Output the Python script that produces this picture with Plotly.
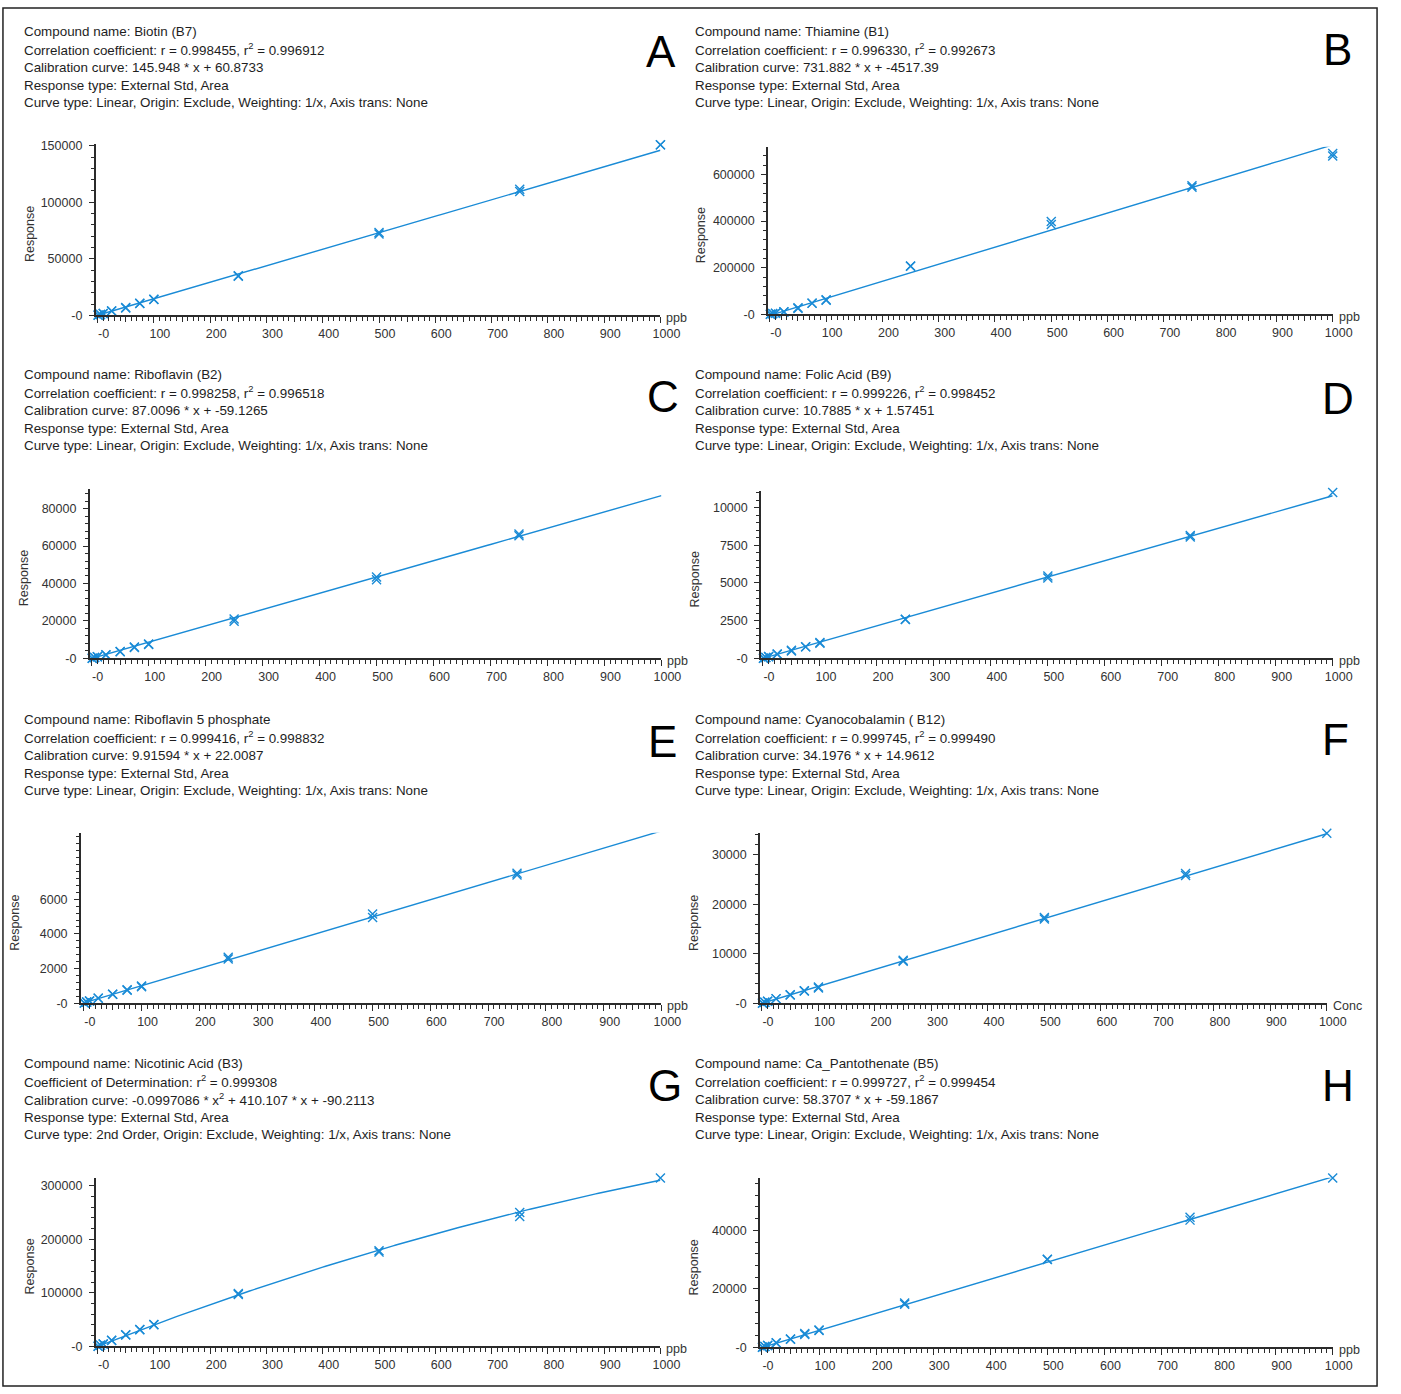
import numpy as np
import plotly.graph_objects as go

W, H = 1401, 1394

# ---------------- data ----------------
conc = [1, 5, 10, 25, 50, 75, 100, 250, 500, 750, 1000]

resp_A1 = [150, 700, 1500, 3800, 7000, 10500, 14000, 34500, 72000, 109500, 151000]
resp_A2 = [200, 800, 1600, 3900, 6400, 10700, 14300, 35000, 73200, 111500, 150800]
resp_B1 = [300, 2500, 4000, 10000, 25000, 47000, 62000, 207000, 385000, 545000, 680000]
resp_B2 = [500, 3000, 4500, 11000, 28000, 48000, 60000, 206000, 398000, 552000, 690000]
resp_C1 = [50, 400, 800, 1800, 3600, 5800, 7400, 19800, 42000, 65500, 91000]
resp_C2 = [80, 450, 850, 1900, 3500, 6000, 7600, 21000, 43500, 66500, 90800]
resp_D1 = [10, 50, 110, 270, 530, 760, 1000, 2600, 5330, 8050, 11000]
resp_D2 = [12, 55, 115, 280, 480, 770, 1050, 2580, 5460, 8150, 11300]
resp_E1 = [15, 70, 130, 290, 520, 760, 950, 2550, 4950, 7400, 9850]
resp_E2 = [18, 75, 135, 300, 530, 780, 1000, 2650, 5150, 7500, 9830]
resp_F1 = [40, 200, 400, 900, 1700, 2500, 3100, 8500, 17000, 25800, 34300]
resp_F2 = [45, 210, 420, 950, 1720, 2550, 3300, 8700, 17300, 26200, 34500]
resp_G1 = [300, 2000, 4500, 11000, 21000, 31000, 41000, 97000, 176000, 242600, 315000]
resp_G2 = [350, 2100, 4400, 11500, 21500, 31500, 40500, 98500, 178500, 250000, 314500]
resp_H1 = [40, 300, 600, 1500, 2800, 4400, 5800, 14700, 30000, 43500, 58000]
resp_H2 = [50, 320, 620, 1550, 2850, 4700, 5900, 15200, 30100, 44500, 57900]

# calibration coefficients (a*x^2 + b*x + c)
coef_A = [0, 145.948, 60.8733]
coef_B = [0, 731.882, -4517.39]
coef_C = [0, 87.0096, -59.1265]
coef_D = [0, 10.7885, 1.57451]
coef_E = [0, 9.91594, 22.0087]
coef_F = [0, 34.1976, 14.9612]
coef_G = [-0.0997086, 410.107, -90.2113]
coef_H = [0, 58.3707, -59.1867]

headers = {
    "A": ["Compound name: Biotin (B7)",
          "Correlation coefficient: r = 0.998455, r<sup>2</sup> = 0.996912",
          "Calibration curve: 145.948 * x + 60.8733",
          "Response type: External Std, Area",
          "Curve type: Linear, Origin: Exclude, Weighting: 1/x, Axis trans: None"],
    "B": ["Compound name: Thiamine (B1)",
          "Correlation coefficient: r = 0.996330, r<sup>2</sup> = 0.992673",
          "Calibration curve: 731.882 * x + -4517.39",
          "Response type: External Std, Area",
          "Curve type: Linear, Origin: Exclude, Weighting: 1/x, Axis trans: None"],
    "C": ["Compound name: Riboflavin (B2)",
          "Correlation coefficient: r = 0.998258, r<sup>2</sup> = 0.996518",
          "Calibration curve: 87.0096 * x + -59.1265",
          "Response type: External Std, Area",
          "Curve type: Linear, Origin: Exclude, Weighting: 1/x, Axis trans: None"],
    "D": ["Compound name: Folic Acid (B9)",
          "Correlation coefficient: r = 0.999226, r<sup>2</sup> = 0.998452",
          "Calibration curve: 10.7885 * x + 1.57451",
          "Response type: External Std, Area",
          "Curve type: Linear, Origin: Exclude, Weighting: 1/x, Axis trans: None"],
    "E": ["Compound name: Riboflavin 5 phosphate",
          "Correlation coefficient: r = 0.999416, r<sup>2</sup> = 0.998832",
          "Calibration curve: 9.91594 * x + 22.0087",
          "Response type: External Std, Area",
          "Curve type: Linear, Origin: Exclude, Weighting: 1/x, Axis trans: None"],
    "F": ["Compound name: Cyanocobalamin ( B12)",
          "Correlation coefficient: r = 0.999745, r<sup>2</sup> = 0.999490",
          "Calibration curve: 34.1976 * x + 14.9612",
          "Response type: External Std, Area",
          "Curve type: Linear, Origin: Exclude, Weighting: 1/x, Axis trans: None"],
    "G": ["Compound name: Nicotinic Acid (B3)",
          "Coefficient of Determination: r<sup>2</sup> = 0.999308",
          "Calibration curve: -0.0997086 * x<sup>2</sup> + 410.107 * x + -90.2113",
          "Response type: External Std, Area",
          "Curve type: 2nd Order, Origin: Exclude, Weighting: 1/x, Axis trans: None"],
    "H": ["Compound name: Ca_Pantothenate (B5)",
          "Correlation coefficient: r = 0.999727, r<sup>2</sup> = 0.999454",
          "Calibration curve: 58.3707 * x + -59.1867",
          "Response type: External Std, Area",
          "Curve type: Linear, Origin: Exclude, Weighting: 1/x, Axis trans: None"],
}

x_labels = list(range(0, 1001, 100))
x_labeltext = ["-0" if v == 0 else str(v) for v in x_labels]
x_midticks = list(range(50, 1000, 100))

# ---------------- layout geometry (pixels of a 1401x1394 canvas) ----------------
panels = {
    "A": dict(resp=(resp_A1, resp_A2), coef=coef_A, ax=97, x0=99, x1=670, yb=313, yt=140, ystep=50000, ypx=57, ylabels=[0, 50000, 100000, 150000], unit="ppb", hx=22, hy=27, letter=(671, 47)),
    "B": dict(resp=(resp_B1, resp_B2), coef=coef_B, ax=779, x0=781, x1=1352, yb=312, yt=143, ystep=200000, ypx=47, ylabels=[0, 200000, 400000, 600000], unit="ppb", hx=703, hy=27, letter=(1357, 45)),
    "C": dict(resp=(resp_C1, resp_C2), coef=coef_C, ax=91, x0=93, x1=671, yb=659, yt=488, ystep=20000, ypx=37.75, ylabels=[0, 20000, 40000, 60000, 80000], unit="ppb", hx=22, hy=373, letter=(673, 395)),
    "D": dict(resp=(resp_D1, resp_D2), coef=coef_D, ax=772, x0=774, x1=1352, yb=659, yt=490, ystep=2500, ypx=38, ylabels=[0, 2500, 5000, 7500, 10000], unit="ppb", hx=703, hy=373, letter=(1357, 397)),
    "E": dict(resp=(resp_E1, resp_E2), coef=coef_E, ax=82, x0=85, x1=671, yb=1007, yt=835, ystep=2000, ypx=35, ylabels=[0, 2000, 4000, 6000], unit="ppb", hx=22, hy=721, letter=(672, 743)),
    "F": dict(resp=(resp_F1, resp_F2), coef=coef_F, ax=771, x0=773, x1=1346, yb=1007, yt=835, ystep=10000, ypx=50, ylabels=[0, 10000, 20000, 30000], unit="Conc", hx=703, hy=721, letter=(1355, 741)),
    "G": dict(resp=(resp_G1, resp_G2), coef=coef_G, ax=97, x0=99, x1=670, yb=1353, yt=1183, ystep=100000, ypx=54, ylabels=[0, 100000, 200000, 300000], unit="ppb", hx=22, hy=1068, letter=(675, 1090)),
    "H": dict(resp=(resp_H1, resp_H2), coef=coef_H, ax=771, x0=773, x1=1352, yb=1354, yt=1183, ystep=20000, ypx=59, ylabels=[0, 20000, 40000], unit="ppb", hx=703, hy=1068, letter=(1357, 1090)),
}

BLUE = "#1a8bd6"
AXC = "#2b2b2b"
TXT = "#1e1e1e"
FONT = "Liberation Sans, Arial, sans-serif"

fig = go.Figure()
layout = dict(autosize=True, margin=dict(l=0, r=0, t=0, b=0, pad=0),
              paper_bgcolor="white", plot_bgcolor="white", showlegend=False,
              font=dict(family=FONT, color=TXT, size=12.5))
annotations = []
shapes = []

xcurve = np.linspace(0, 1000, 201)
npan = len(panels)

for i, (key, p) in enumerate(panels.items()):
    n = "" if i == 0 else str(i + 1)
    xa, ya = "x" + n, "y" + n
    ppu = (p["x1"] - p["x0"]) / 1000.0
    xmin = -(p["x0"] - p["ax"]) / ppu
    ytop_val = (p["yb"] - p["yt"]) / p["ypx"] * p["ystep"]
    xdomain = [p["ax"] / W, p["x1"] / W]
    layout["xaxis" + n] = dict(
        domain=xdomain, range=[xmin, 1000], anchor=ya,
        showgrid=False, zeroline=False, showline=True, linecolor=AXC, linewidth=1.5,
        ticks="outside", ticklen=6, tickwidth=1.3, tickcolor=AXC,
        tickmode="array", tickvals=x_labels, ticktext=x_labeltext,
        tickfont=dict(size=12.5, color="#333"), ticklabelshift=6,
        minor=dict(ticks="outside", ticklen=3.5, tickwidth=1, tickcolor=AXC, tickmode="linear", tick0=0, dtick=10),
        fixedrange=True,
    )
    m = str(npan + i + 1)
    layout["xaxis" + m] = dict(
        domain=xdomain, range=[xmin, 1000], anchor=ya, overlaying=xa, side="bottom",
        showgrid=False, zeroline=False, showline=False, showticklabels=False,
        ticks="outside", ticklen=6, tickwidth=1.3, tickcolor=AXC,
        tickmode="array", tickvals=x_midticks, fixedrange=True,
    )
    ylab_text = ["-0" if v == 0 else str(v) for v in p["ylabels"]]
    layout["yaxis" + n] = dict(
        domain=[1 - p["yb"] / H, 1 - p["yt"] / H], range=[0, ytop_val], anchor=xa,
        showgrid=False, zeroline=False, showline=True, linecolor=AXC, linewidth=1.5,
        ticks="outside", ticklen=5, tickwidth=1.3, tickcolor=AXC,
        tickmode="array", tickvals=p["ylabels"], ticktext=ylab_text,
        tickfont=dict(size=12.5, color="#333"), ticklabelstandoff=4,
        minor=dict(ticks="outside", ticklen=3, tickwidth=1, tickcolor=AXC, tickmode="linear", tick0=0, dtick=p["ystep"] / 5),
        fixedrange=True,
    )
    a, b, c = p["coef"]
    ycurve = a * xcurve ** 2 + b * xcurve + c
    fig.add_trace(go.Scatter(x=xcurve, y=ycurve, mode="lines", xaxis=xa, yaxis=ya,
                             line=dict(color=BLUE, width=1.4), cliponaxis=False, hoverinfo="skip"))
    r1, r2 = p["resp"]
    fig.add_trace(go.Scatter(x=conc + conc, y=list(r1) + list(r2), mode="markers", xaxis=xa, yaxis=ya,
                             marker=dict(symbol="x-thin", size=9, line=dict(color=BLUE, width=1.4)),
                             cliponaxis=False))
    fig.add_trace(go.Scatter(x=[None], y=[None], xaxis="x" + m, yaxis=ya, mode="markers",
                             hoverinfo="skip", showlegend=False))
    annotations.append(dict(x=1000, y=0, xref=xa, yref=ya, text=p["unit"], showarrow=False,
                            xanchor="left", yanchor="middle", xshift=4, yshift=-3,
                            font=dict(size=12.5, color="#333")))
    annotations.append(dict(x=(p["ax"] - 67) / W, y=1 - ((p["yb"] + p["yt"]) / 2 + 5) / H, xref="paper", yref="paper",
                            text="Response", textangle=-90, showarrow=False, xanchor="center", yanchor="middle",
                            font=dict(size=12.5, color="#333")))
    for k, line in enumerate(headers[key]):
        annotations.append(dict(x=p["hx"] / W, y=1 - (p["hy"] + 17.9 * k) / H, xref="paper", yref="paper",
                                text=line, showarrow=False, xanchor="left", yanchor="middle",
                                font=dict(size=13.4, color=TXT)))
    lx, ly = p["letter"]
    annotations.append(dict(x=lx / W, y=1 - ly / H, xref="paper", yref="paper", text=key, showarrow=False,
                            xanchor="center", yanchor="middle", font=dict(size=44, color="black")))

shapes.append(dict(type="rect", xref="paper", yref="paper", x0=3 / W, x1=1397 / W, y0=1 - 1393 / H, y1=1 - 3 / H,
                   line=dict(color="#222", width=1.5), fillcolor="rgba(0,0,0,0)"))

layout["annotations"] = annotations
layout["shapes"] = shapes
fig.update_layout(**layout)
post = ("document.body.style.margin='0';document.body.style.padding='0';"
        "document.body.style.overflow='hidden';document.documentElement.style.overflow='hidden';"
        "var d=document.getElementById('{plot_id}');d.style.position='fixed';d.style.left='0px';d.style.top='0px';"
        "d.style.width='100vw';d.style.height='100vh';Plotly.Plots.resize(d);")
fig.write_html("out.html", config={"displayModeBar": False, "responsive": True},
               default_width="100vw", default_height="100vh", post_script=post)
